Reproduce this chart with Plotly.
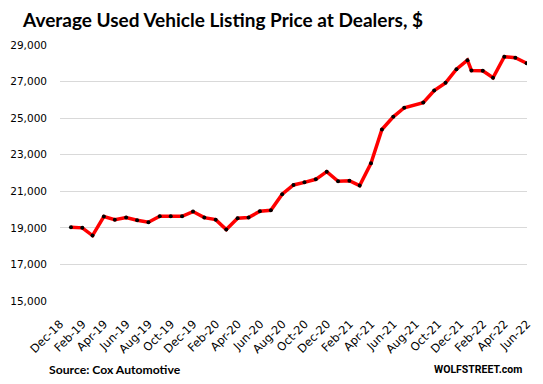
import plotly.graph_objects as go

dates = [
    "2018-12-31", "2019-01-31", "2019-02-28", "2019-03-31", "2019-04-30", "2019-05-31",
    "2019-06-30", "2019-07-31", "2019-08-31", "2019-09-30", "2019-10-31", "2019-11-30",
    "2019-12-31", "2020-01-31", "2020-02-29", "2020-03-31", "2020-04-30", "2020-05-31",
    "2020-06-30", "2020-07-31", "2020-08-31", "2020-09-30", "2020-10-31", "2020-11-30",
    "2020-12-31", "2021-01-31", "2021-02-28", "2021-03-31", "2021-04-30", "2021-05-31",
    "2021-06-30", "2021-08-21", "2021-09-20", "2021-10-21", "2021-11-20", "2021-12-20",
    "2021-12-31", "2022-01-31", "2022-02-28", "2022-03-31", "2022-04-30", "2022-05-31",
]
prices = [
    19030, 19000, 18580, 19620, 19450, 19560,
    19415, 19305, 19635, 19635, 19635, 19890,
    19560, 19450, 18910, 19525, 19560, 19905,
    19960, 20840, 21345, 21490, 21655, 22075,
    21545, 21580, 21310, 22535, 24380, 25070,
    25570, 25850, 26510, 26930, 27675, 28170,
    27610, 27590, 27210, 28360, 28305, 28000,
]

tick_dates = [
    "2018-12-01", "2019-02-01", "2019-04-01", "2019-06-01", "2019-08-01", "2019-10-01",
    "2019-12-01", "2020-02-01", "2020-04-01", "2020-06-01", "2020-08-01", "2020-10-01",
    "2020-12-01", "2021-02-01", "2021-04-01", "2021-06-01", "2021-08-01", "2021-10-01",
    "2021-12-01", "2022-02-01", "2022-04-01", "2022-06-01",
]
tick_labels = [
    "Dec-18", "Feb-19", "Apr-19", "Jun-19", "Aug-19", "Oct-19",
    "Dec-19", "Feb-20", "Apr-20", "Jun-20", "Aug-20", "Oct-20",
    "Dec-20", "Feb-21", "Apr-21", "Jun-21", "Aug-21", "Oct-21",
    "Dec-21", "Feb-22", "Apr-22", "Jun-22",
]
y_ticks = [15000, 17000, 19000, 21000, 23000, 25000, 27000, 29000]

title_text = "<b>Average Used Vehicle Listing Price at Dealers, $</b>"
source_text = "<b>Source: Cox Automotive</b>"
brand_text = "<b>WOLFSTREET.com</b>"

W, H = 543, 384
L, R, T, B = 55, 10, 45, 83
pw, ph = W - L - R, H - T - B


def px_x(x):
    return (x - L) / pw


def px_y(y):
    return (H - B - y) / ph


fig = go.Figure()
fig.add_trace(go.Scatter(
    x=dates, y=prices, mode="lines+markers",
    line=dict(color="#ff0000", width=3.5),
    marker=dict(color="#000000", size=4),
    hoverinfo="skip", showlegend=False,
))

fig.update_layout(
    width=W, height=H,
    margin=dict(l=L, r=R, t=T, b=B, pad=0),
    paper_bgcolor="white", plot_bgcolor="white",
    title=dict(
        text=title_text,
        font=dict(family="Lato", size=19, color="#000000"),
        xref="container", yref="container",
        x=23 / W, xanchor="left", y=1 - 20 / H, yanchor="middle",
    ),
    xaxis=dict(
        type="date",
        range=["2018-12-01", "2022-06-01"],
        tickmode="array", tickvals=tick_dates, ticktext=tick_labels,
        tickangle=-45, tickfont=dict(family="DejaVu Sans", size=11.5, color="#000000"),
        showgrid=False, zeroline=False, showline=False, ticks="",
        ticklabelstandoff=13,
    ),
    yaxis=dict(
        range=[15000, 29000],
        tickmode="array", tickvals=y_ticks,
        tickformat=",d", tickfont=dict(family="DejaVu Sans", size=10.5, color="#000000"),
        showgrid=True, gridcolor="#d9d9d9", gridwidth=1,
        zeroline=False, showline=False, ticks="",
        ticklabelstandoff=12,
    ),
    annotations=[
        dict(text=source_text, xref="paper", yref="paper",
             x=px_x(42), y=px_y(369), xanchor="left", yanchor="middle",
             showarrow=False, font=dict(family="Lato", size=12.2, color="#000000")),
        dict(text=brand_text, xref="paper", yref="paper",
             x=px_x(530), y=px_y(369), xanchor="right", yanchor="middle",
             showarrow=False, font=dict(family="Roboto", size=10.5, color="#000000")),
    ],
)

fig.write_html("out.html", config={"displayModeBar": False},
               post_script="document.body.style.margin='0px';")
